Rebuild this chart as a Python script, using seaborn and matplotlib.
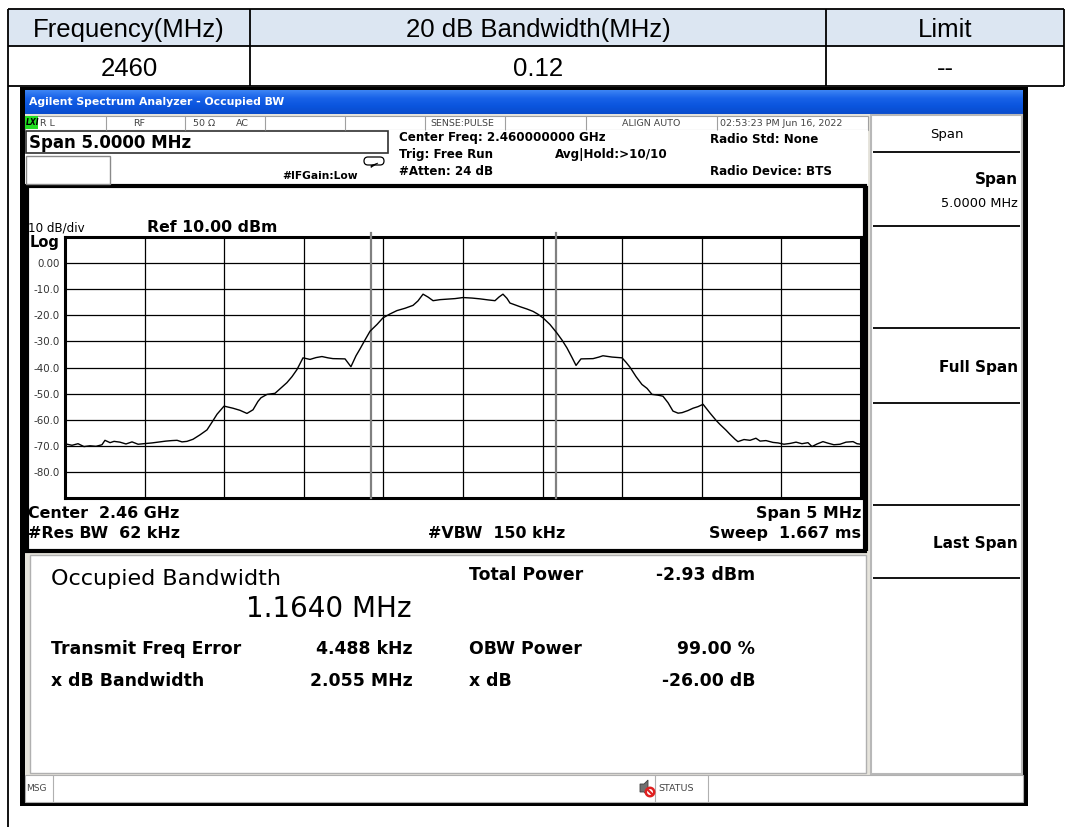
import numpy as np
import pandas as pd
import matplotlib
matplotlib.use("Agg")
import matplotlib.pyplot as plt
import seaborn as sns
from matplotlib.patches import Rectangle, FancyBboxPatch, Circle, Polygon
from matplotlib.colors import LinearSegmentedColormap

# ---------------- data ----------------
table_header = ["Frequency(MHz)", "20 dB Bandwidth(MHz)", "Limit"]
table_row = ["2460", "0.12", "--"]

center_mhz = 2460.0
span_mhz = 5.0
ref_level_dbm = 10.0
db_per_div = 10.0
obw_mhz = 1.164
freq_error_khz = 4.488

offset_mhz = [
    -2.487, -2.456, -2.418, -2.381, -2.343, -2.305, -2.268, -2.249, -2.217, -2.192,
    -2.155, -2.117, -2.079, -2.041, -1.991, -1.954, -1.916, -1.866, -1.828, -1.796,
    -1.765, -1.734, -1.696, -1.652, -1.608, -1.577, -1.545, -1.501, -1.445, -1.401,
    -1.357, -1.319, -1.288, -1.269, -1.231, -1.181, -1.143, -1.106, -1.074, -1.043,
    -1.005, -0.961, -0.923, -0.886, -0.848, -0.817, -0.741, -0.704, -0.672, -0.647,
    -0.616, -0.584, -0.540, -0.503, -0.459, -0.415, -0.364, -0.314, -0.283, -0.251,
    -0.220, -0.188, -0.144, -0.101, -0.050, 0.000, 0.057, 0.107, 0.157, 0.201,
    0.226, 0.251, 0.276, 0.295, 0.358, 0.402, 0.440, 0.471, 0.503, 0.546,
    0.590, 0.622, 0.653, 0.685, 0.710, 0.741, 0.817, 0.854, 0.879, 0.936,
    0.999, 1.024, 1.049, 1.087, 1.124, 1.156, 1.187, 1.225, 1.256, 1.288,
    1.319, 1.351, 1.376, 1.413, 1.445, 1.476, 1.508, 1.552, 1.589, 1.614,
    1.652, 1.677, 1.709, 1.727, 1.765, 1.803, 1.840, 1.866, 1.903, 1.947,
    1.979, 2.016, 2.054, 2.092, 2.129, 2.167, 2.192, 2.224, 2.261, 2.293,
    2.330, 2.368, 2.406, 2.450, 2.475, 2.500,
]
level_dbm = [
    -69.4, -69.8, -69.2, -70.3, -70.0, -70.2, -69.6, -67.9, -68.8, -68.3,
    -68.6, -69.3, -68.5, -69.4, -69.1, -68.9, -68.6, -68.2, -68.0, -67.9,
    -68.5, -68.3, -67.5, -65.8, -63.9, -61.0, -57.9, -54.8, -55.6, -56.4,
    -57.6, -56.2, -53.0, -51.6, -50.3, -49.9, -47.8, -45.8, -43.5, -40.8,
    -36.3, -36.9, -36.2, -35.8, -36.3, -36.6, -36.7, -39.7, -35.5, -32.9,
    -29.5, -26.1, -23.5, -21.0, -19.5, -18.2, -17.3, -16.2, -14.5, -11.9,
    -13.0, -14.4, -14.0, -13.8, -13.6, -13.2, -13.4, -13.7, -14.1, -14.4,
    -13.0, -11.9, -13.5, -15.3, -16.7, -17.6, -18.5, -19.6, -21.0, -23.5,
    -26.8, -29.5, -32.5, -36.2, -39.2, -36.7, -36.6, -36.0, -35.5, -36.0,
    -36.3, -38.0, -39.9, -43.5, -46.5, -48.0, -50.3, -50.6, -51.0, -53.5,
    -56.7, -57.5, -57.3, -56.5, -55.6, -55.0, -54.1, -57.5, -60.2, -61.8,
    -64.0, -65.6, -67.5, -68.4, -67.6, -67.9, -67.1, -68.2, -68.0, -68.7,
    -68.9, -69.4, -69.1, -68.6, -69.2, -68.8, -70.3, -69.3, -68.4, -69.0,
    -69.6, -69.4, -68.6, -68.4, -69.2, -69.4,
]
ytick_values = [0, -10, -20, -30, -40, -50, -60, -70, -80]
ytick_labels = ["0.00", "-10.0", "-20.0", "-30.0", "-40.0", "-50.0", "-60.0", "-70.0", "-80.0"]

status_items = ["R L", "RF", "50 \u03a9", "AC", "SENSE:PULSE", "ALIGN AUTO", "02:53:23 PM Jun 16, 2022"]
header_left = ["Center Freq: 2.460000000 GHz", "Trig: Free Run", "#Atten: 24 dB"]
header_mid = "Avg|Hold:>10/10"
header_right = ["Radio Std: None", "Radio Device: BTS"]
bottom_info = ["Center  2.46 GHz", "Span 5 MHz", "#Res BW  62 kHz", "#VBW  150 kHz", "Sweep  1.667 ms"]
meas_left_labels = ["Transmit Freq Error", "x dB Bandwidth"]
meas_left_values = ["4.488 kHz", "2.055 MHz"]
meas_right_labels = ["Total Power", "OBW Power", "x dB"]
meas_right_values = ["-2.93 dBm", "99.00 %", "-26.00 dB"]
softkeys = ["Span", "Full Span", "Last Span"]

# ---------------- figure ----------------
W, H = 1067, 827
fig = plt.figure(figsize=(W / 100, H / 100), dpi=100)
fig.patch.set_facecolor("white")
bg = fig.add_axes([0, 0, 1, 1], zorder=0)
bg.set_xlim(0, W)
bg.set_ylim(H, 0)
bg.axis("off")


def rect(x0, y0, x1, y1, fc="none", ec="none", lw=1.0, z=1):
    bg.add_patch(Rectangle((x0, y0), x1 - x0, y1 - y0, facecolor=fc, edgecolor=ec,
                           linewidth=lw, zorder=z))


def line(x0, y0, x1, y1, color="black", lw=1.0, z=3):
    bg.plot([x0, x1], [y0, y1], color=color, lw=lw, zorder=z, solid_capstyle="butt")


def T(x, yc, s, pt, weight="normal", ha="left", color="black", family="DejaVu Sans",
      style="normal", z=6):
    cap = 0.729 if "DejaVu" in family else 0.716
    yb = yc + cap * pt * 100 / 72 / 2
    bg.text(x, yb, s, fontsize=pt, fontweight=weight, ha=ha, va="baseline", color=color,
            family=family, fontstyle=style, zorder=z)


# ---------------- table ----------------
rect(8, 9, 1064, 46, fc="#DCE6F2", z=1)
for y in (9, 46, 86):
    line(8, y, 1064, y, lw=1.3)
for x in (250, 826, 1064):
    line(x, 9, x, 86, lw=1.3)
line(8, 9, 8, 827, lw=1.3)
col_centers = [129, 538, 945]
for cx, h, r in zip(col_centers, table_header, table_row):
    T(cx, 28, h, 18.5, ha="center", family="Liberation Sans")
    T(cx, 67, r, 18.5, ha="center", family="Liberation Sans")

# ---------------- analyzer window ----------------
rect(20, 87, 1028, 806, fc="black", z=1)
rect(25, 114, 1023, 802, fc="#E6E4DC", z=1.1)
cmap = LinearSegmentedColormap.from_list("tb", ["#3C84F4", "#1862E8", "#0B55DE", "#0A4CCC"])
bg.imshow(np.linspace(0, 1, 30)[:, None], extent=[25, 1023, 114, 90], cmap=cmap,
          aspect="auto", origin="upper", zorder=1.2)
bg.set_xlim(0, W)
bg.set_ylim(H, 0)
T(29, 101, "Agilent Spectrum Analyzer - Occupied BW", 7.8, weight="bold", color="white")

# status row
rect(25, 116, 868, 130, fc="white", ec="#A0A0A0", lw=0.8, z=2)
rect(25, 116, 38, 129, fc="#22DD22", z=2.5)
T(26, 122.5, "LXI", 5.5, weight="bold", style="italic")
for xd in (106, 185, 265, 345, 425, 505, 586, 717):
    line(xd, 116, xd, 130, color="#A0A0A0", lw=0.8)
status_x = [40, 133, 193, 236, 430, 622, 720]
for sx, s in zip(status_x, status_items):
    T(sx, 122.5, s, 6.8, color="#444444")

# header white area
rect(25, 130, 868, 185, fc="white", z=2)
rect(26, 131, 388, 153, fc="white", ec="#303030", lw=1.2, z=2.5)
T(29, 142, "Span 5.0000 MHz", 12, weight="bold")
rect(26, 156, 110, 184, fc="white", ec="#8A8A8A", lw=1.0, z=2.5)
T(282, 175, "#IFGain:Low", 7.7, weight="bold")
bg.add_patch(FancyBboxPatch((364, 157), 20, 8, boxstyle="round,pad=0,rounding_size=4",
                            fc="white", ec="black", lw=0.9, zorder=3))
bg.add_patch(Polygon([[371, 165.5], [378, 163], [371, 167.5]], closed=True, fc="black",
                     ec="black", lw=0.5, zorder=3))
for yc, s in zip((137, 154, 171), header_left):
    T(399, yc, s, 8.6, weight="bold")
T(555, 154, header_mid, 8.6, weight="bold")
for yc, s in zip((139, 171), header_right):
    T(710, yc, s, 8.6, weight="bold")

# graph frame
rect(26.5, 186, 864.5, 551, fc="white", ec="black", lw=3, z=2)
T(28, 227, "10 dB/div", 8.6)
T(147, 226, "Ref 10.00 dBm", 11.3, weight="bold")
T(30, 242, "Log", 10.5, weight="bold")
T(28, 512, bottom_info[0], 11.4, weight="bold")
T(861, 512, bottom_info[1], 11.4, weight="bold", ha="right")
T(28, 532, bottom_info[2], 11.4, weight="bold")
T(497, 532, bottom_info[3], 11.4, weight="bold", ha="center")
T(861, 532, bottom_info[4], 11.4, weight="bold", ha="right")

# measurement panel
rect(30, 555, 866, 773, fc="white", ec="#B0B0B0", lw=1.0, z=2)
T(51, 577, "Occupied Bandwidth", 16.0)
T(412, 607, "1.1640 MHz", 20, ha="right")
for yc, lab, val in zip((648, 680), meas_left_labels, meas_left_values):
    T(51, yc, lab, 12.4, weight="bold")
    T(413, yc, val, 12.4, weight="bold", ha="right")
for yc, lab, val in zip((574, 648, 680), meas_right_labels, meas_right_values):
    T(469, yc, lab, 12.4, weight="bold")
    T(755, yc, val, 12.4, weight="bold", ha="right")

# softkey panel
rect(871, 115, 1022, 774, fc="white", ec="#B8B8B8", lw=1.5, z=2)
for ys in (152, 226, 328, 403, 505, 578):
    line(873, ys, 1020, ys, color="black", lw=1.3)
line(866, 186, 866, 551, color="black", lw=3)
T(947, 133, softkeys[0], 9.5, ha="center")
T(1018, 178, softkeys[0], 11, weight="bold", ha="right")
T(1018, 202, "5.0000 MHz", 9.3, ha="right")
T(1018, 366, softkeys[1], 11, weight="bold", ha="right")
T(1018, 542, softkeys[2], 11, weight="bold", ha="right")

# bottom status bar
rect(25, 775, 1023, 802, fc="white", ec="#B0B0B0", lw=0.8, z=2)
for xd in (53, 655, 708):
    line(xd, 775, xd, 802, color="#B0B0B0", lw=0.8)
T(26, 788, "MSG", 6.5, color="#444444")
T(658, 788, "STATUS", 6.8, color="#444444")
bg.add_patch(Polygon([[640, 784], [644, 784], [648, 780], [648, 796], [644, 792], [640, 792]],
                     closed=True, fc="#707070", ec="#404040", lw=0.6, zorder=3))
bg.add_patch(Circle((650, 792), 4.2, fc="white", ec="#E02020", lw=1.8, zorder=4))
line(647.3, 789.3, 652.7, 794.7, color="#E02020", lw=1.6, z=5)

# ---------------- spectrum plot ----------------
gl, gr, gt, gb = 65, 861, 237, 498
ax = fig.add_axes([gl / W, 1 - gb / H, (gr - gl) / W, (gb - gt) / H], zorder=5)
df = pd.DataFrame({"freq": center_mhz + np.array(offset_mhz), "level": level_dbm})
sns.lineplot(data=df, x="freq", y="level", ax=ax, color="black", lw=1.0,
             estimator=None, sort=False, zorder=4)
ax.set_xlim(center_mhz - span_mhz / 2, center_mhz + span_mhz / 2)
ax.set_ylim(ref_level_dbm - 10 * db_per_div, ref_level_dbm)
ax.set_xlabel("")
ax.set_ylabel("")
ax.set_facecolor("white")
ax.set_xticks(center_mhz + np.arange(-2.5, 2.51, 0.5))
ax.set_xticklabels([])
ax.set_yticks(ytick_values)
ax.set_yticklabels(ytick_labels)
ax.tick_params(axis="both", length=0)
ax.tick_params(axis="y", pad=4, labelsize=7.4, labelcolor="#333333")
ax.grid(True, color="black", lw=0.9)
ax.set_axisbelow(True)
for sp in ax.spines.values():
    sp.set_linewidth(2.2)
    sp.set_color("black")
f_obw_center = center_mhz + freq_error_khz / 1000.0
for fx in (f_obw_center - obw_mhz / 2, f_obw_center + obw_mhz / 2):
    ax.axvline(fx, ymin=0, ymax=1.015, color="#808080", lw=1.6, clip_on=False, zorder=3)

fig.savefig("out.png", dpi=100)
